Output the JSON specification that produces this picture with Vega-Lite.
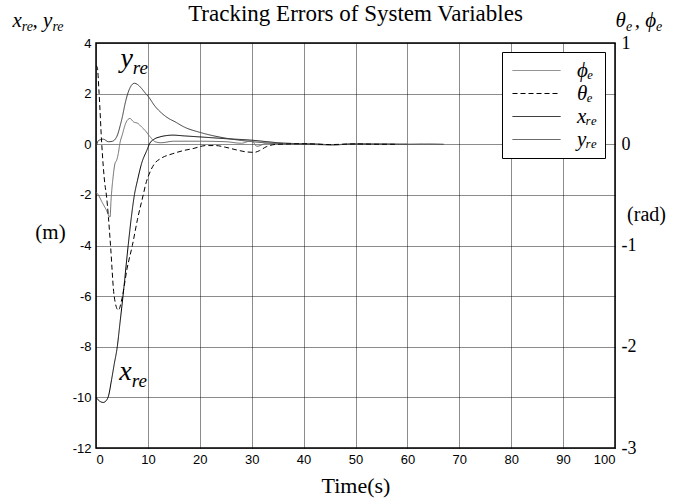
{
  "$schema": "https://vega.github.io/schema/vega-lite/v6.json",
  "width": 519,
  "height": 405,
  "autosize": {"type": "none"},
  "padding": {"left": 96, "top": 43, "right": 74, "bottom": 52},
  "background": "white",
  "config": {
    "view": {"stroke": "black", "strokeWidth": 1.5},
    "axis": {"gridColor": "#000000", "gridDash": [1, 1], "gridWidth": 1, "gridOpacity": 0.9, "ticks": false, "domain": false, "labelColor": "black", "titleColor": "black", "labelExpr": "replace(datum.label, '−', '-')"},
    "legend": {"orient": "none", "legendX": 406, "legendY": 9, "title": null, "strokeColor": "black", "fillColor": "white", "padding": 8, "symbolType": "M-1,0H5", "symbolSize": 256, "labelFont": "Liberation Serif", "labelFontStyle": "italic", "labelFontSize": 21, "labelOffset": 46, "rowPadding": 1, "labelColor": "black"}
  },
  "title": {"text": "Tracking Errors of System Variables", "font": "Liberation Serif", "fontSize": 23, "fontWeight": "normal", "color": "black", "anchor": "middle", "frame": "group", "baseline": "alphabetic", "offset": -34},
  "datasets": {
    "curves": [
      {"series": "xre", "t": 0, "v": -10.0}, {"series": "xre", "t": 0.7, "v": -10.15}, {"series": "xre", "t": 1.4, "v": -10.2}, {"series": "xre", "t": 2.0, "v": -10.12}, {"series": "xre", "t": 2.4, "v": -9.95}, {"series": "xre", "t": 3.0, "v": -9.3}, {"series": "xre", "t": 3.5, "v": -8.7}, {"series": "xre", "t": 4.1, "v": -8.0}, {"series": "xre", "t": 4.6, "v": -7.1}, {"series": "xre", "t": 5.2, "v": -6.0}, {"series": "xre", "t": 6.2, "v": -4.0}, {"series": "xre", "t": 6.8, "v": -2.9}, {"series": "xre", "t": 7.4, "v": -2.0}, {"series": "xre", "t": 8.0, "v": -1.42}, {"series": "xre", "t": 8.8, "v": -0.75}, {"series": "xre", "t": 9.8, "v": -0.24}, {"series": "xre", "t": 10.4, "v": 0.05}, {"series": "xre", "t": 11.2, "v": 0.2}, {"series": "xre", "t": 12.3, "v": 0.29}, {"series": "xre", "t": 13.5, "v": 0.34}, {"series": "xre", "t": 14.8, "v": 0.36}, {"series": "xre", "t": 17, "v": 0.33}, {"series": "xre", "t": 20, "v": 0.29}, {"series": "xre", "t": 25, "v": 0.22}, {"series": "xre", "t": 30, "v": 0.16}, {"series": "xre", "t": 33, "v": 0.1}, {"series": "xre", "t": 35, "v": 0.06}, {"series": "xre", "t": 38, "v": 0.03}, {"series": "xre", "t": 42, "v": 0.01}, {"series": "xre", "t": 46, "v": -0.02}, {"series": "xre", "t": 50, "v": 0.01}, {"series": "xre", "t": 54, "v": -0.01}, {"series": "xre", "t": 60, "v": 0.0},
      {"series": "yre", "t": 0, "v": -0.1}, {"series": "yre", "t": 0.5, "v": 0.15}, {"series": "yre", "t": 1.4, "v": 0.2}, {"series": "yre", "t": 2.4, "v": 0.1}, {"series": "yre", "t": 3.2, "v": 0.12}, {"series": "yre", "t": 3.7, "v": 0.2}, {"series": "yre", "t": 4.2, "v": 0.4}, {"series": "yre", "t": 4.6, "v": 0.69}, {"series": "yre", "t": 5.1, "v": 1.1}, {"series": "yre", "t": 5.6, "v": 1.6}, {"series": "yre", "t": 6.2, "v": 2.05}, {"series": "yre", "t": 6.8, "v": 2.32}, {"series": "yre", "t": 7.4, "v": 2.41}, {"series": "yre", "t": 8.0, "v": 2.36}, {"series": "yre", "t": 8.8, "v": 2.2}, {"series": "yre", "t": 9.5, "v": 2.02}, {"series": "yre", "t": 10.1, "v": 1.88}, {"series": "yre", "t": 11.3, "v": 1.52}, {"series": "yre", "t": 12.7, "v": 1.22}, {"series": "yre", "t": 14.0, "v": 1.02}, {"series": "yre", "t": 15.2, "v": 0.89}, {"series": "yre", "t": 17, "v": 0.68}, {"series": "yre", "t": 20, "v": 0.47}, {"series": "yre", "t": 22.5, "v": 0.34}, {"series": "yre", "t": 25, "v": 0.24}, {"series": "yre", "t": 28, "v": 0.15}, {"series": "yre", "t": 30.2, "v": 0.1}, {"series": "yre", "t": 34.7, "v": 0.03}, {"series": "yre", "t": 40, "v": 0.0}, {"series": "yre", "t": 45, "v": -0.02}, {"series": "yre", "t": 50, "v": 0.01}, {"series": "yre", "t": 55, "v": 0.02}, {"series": "yre", "t": 60, "v": -0.01}, {"series": "yre", "t": 64, "v": 0.01}, {"series": "yre", "t": 67, "v": 0.0},
      {"series": "phi", "t": 0, "v": -0.475}, {"series": "phi", "t": 0.3, "v": -0.49}, {"series": "phi", "t": 1.2, "v": -0.575}, {"series": "phi", "t": 2.0, "v": -0.65}, {"series": "phi", "t": 2.7, "v": -0.72}, {"series": "phi", "t": 2.9, "v": -0.55}, {"series": "phi", "t": 3.3, "v": -0.32}, {"series": "phi", "t": 3.66, "v": -0.19}, {"series": "phi", "t": 4.0, "v": -0.155}, {"series": "phi", "t": 4.3, "v": -0.09}, {"series": "phi", "t": 4.6, "v": 0.008}, {"series": "phi", "t": 5.1, "v": 0.1}, {"series": "phi", "t": 5.6, "v": 0.19}, {"series": "phi", "t": 6.0, "v": 0.235}, {"series": "phi", "t": 6.55, "v": 0.255}, {"series": "phi", "t": 7.2, "v": 0.222}, {"series": "phi", "t": 8.1, "v": 0.205}, {"series": "phi", "t": 8.8, "v": 0.17}, {"series": "phi", "t": 9.4, "v": 0.14}, {"series": "phi", "t": 10.4, "v": 0.075}, {"series": "phi", "t": 11.4, "v": 0.025}, {"series": "phi", "t": 12.5, "v": 0.015}, {"series": "phi", "t": 15, "v": 0.03}, {"series": "phi", "t": 20, "v": 0.03}, {"series": "phi", "t": 25, "v": 0.025}, {"series": "phi", "t": 28, "v": 0.01}, {"series": "phi", "t": 30, "v": 0.035}, {"series": "phi", "t": 31, "v": -0.02}, {"series": "phi", "t": 33, "v": 0.01}, {"series": "phi", "t": 36, "v": 0.0}, {"series": "phi", "t": 40, "v": 0.005}, {"series": "phi", "t": 45, "v": -0.005}, {"series": "phi", "t": 50, "v": 0.003}, {"series": "phi", "t": 55, "v": -0.003}, {"series": "phi", "t": 60, "v": 0.002}, {"series": "phi", "t": 63, "v": 0.0},
      {"series": "theta", "t": 0, "v": 0.775}, {"series": "theta", "t": 0.25, "v": 0.76}, {"series": "theta", "t": 0.6, "v": 0.5}, {"series": "theta", "t": 1.1, "v": 0.008}, {"series": "theta", "t": 1.7, "v": -0.39}, {"series": "theta", "t": 2.0, "v": -0.5}, {"series": "theta", "t": 2.4, "v": -0.725}, {"series": "theta", "t": 2.8, "v": -1.0}, {"series": "theta", "t": 3.5, "v": -1.5}, {"series": "theta", "t": 4.3, "v": -1.64}, {"series": "theta", "t": 5.0, "v": -1.525}, {"series": "theta", "t": 6.0, "v": -1.225}, {"series": "theta", "t": 7.0, "v": -1.0}, {"series": "theta", "t": 8.0, "v": -0.74}, {"series": "theta", "t": 9.1, "v": -0.5}, {"series": "theta", "t": 9.6, "v": -0.39}, {"series": "theta", "t": 10.2, "v": -0.3}, {"series": "theta", "t": 11.3, "v": -0.19}, {"series": "theta", "t": 12.5, "v": -0.14}, {"series": "theta", "t": 14.8, "v": -0.093}, {"series": "theta", "t": 16.8, "v": -0.063}, {"series": "theta", "t": 18.7, "v": -0.043}, {"series": "theta", "t": 21.2, "v": -0.013}, {"series": "theta", "t": 23, "v": -0.013}, {"series": "theta", "t": 25, "v": -0.03}, {"series": "theta", "t": 27, "v": -0.055}, {"series": "theta", "t": 28.9, "v": -0.075}, {"series": "theta", "t": 30.5, "v": -0.08}, {"series": "theta", "t": 31.5, "v": -0.063}, {"series": "theta", "t": 32.8, "v": -0.025}, {"series": "theta", "t": 35, "v": 0.0}, {"series": "theta", "t": 40, "v": 0.005}, {"series": "theta", "t": 45, "v": -0.003}, {"series": "theta", "t": 50, "v": 0.003}, {"series": "theta", "t": 55, "v": 0.0}, {"series": "theta", "t": 58, "v": 0.0}
    ],
    "notes": [
      {"grp": "plot", "t": 7.1, "v": 3.05, "main": "y", "sub": "re"},
      {"grp": "plot", "t": 6.9, "v": -9.32, "main": "x", "sub": "re"},
      {"grp": "head", "t": -14.3, "v": 4.63, "main": "x", "sub": "re"},
      {"grp": "head", "t": -8.4, "v": 4.63, "main": ", y", "sub": "re"},
      {"grp": "head", "t": 102.1, "v": 4.63, "main": "θ", "sub": "e"},
      {"grp": "head", "t": 107.9, "v": 4.63, "main": ", ϕ", "sub": "e"}
    ]
  },
  "layer": [
    {
      "encoding": {
        "x": {"field": "t", "type": "quantitative", "scale": {"domain": [0, 100], "nice": false},
              "axis": {"values": [0, 10, 20, 30, 40, 50, 60, 70, 80, 90, 100], "labelFont": "Liberation Sans", "labelFontSize": 13, "labelPadding": 5, "grid": true, "title": "Time(s)", "titleFont": "Liberation Serif", "titleFontSize": 22, "titleFontWeight": "normal", "titleY": 37, "titleBaseline": "middle"}},
        "y": {"field": "v", "type": "quantitative", "scale": {"domain": [-12, 4], "nice": false},
              "axis": {"values": [-12, -10, -8, -6, -4, -2, 0, 2, 4], "labelFont": "Liberation Sans", "labelFontSize": 13, "labelPadding": 5, "grid": true, "title": "(m)", "titleAngle": 0, "titleFont": "Liberation Serif", "titleFontSize": 21, "titleFontWeight": "normal", "titleX": -46, "titleY": 189, "titleAlign": "center", "titleBaseline": "middle"}}
      },
      "layer": [
        {
          "data": {"name": "curves"},
          "transform": [{"filter": "datum.series === 'xre' || datum.series === 'yre'"}],
          "mark": {"type": "line", "interpolate": "monotone"},
          "encoding": {
            "color": {"field": "series", "type": "nominal", "scale": {"domain": ["phi", "theta", "xre", "yre"], "range": ["#707070", "#000000", "#000000", "#3a3a3a"]},
                      "legend": {"labelExpr": "datum.label == 'phi' ? 'ϕₑ' : datum.label == 'theta' ? 'θₑ' : datum.label == 'xre' ? 'xᵣₑ' : 'yᵣₑ'"}},
            "strokeDash": {"field": "series", "type": "nominal", "scale": {"domain": ["phi", "theta", "xre", "yre"], "range": [[1, 0], [5, 3], [1, 0], [1, 0]]},
                      "legend": {"labelExpr": "datum.label == 'phi' ? 'ϕₑ' : datum.label == 'theta' ? 'θₑ' : datum.label == 'xre' ? 'xᵣₑ' : 'yᵣₑ'"}},
            "strokeWidth": {"field": "series", "type": "nominal", "scale": {"domain": ["phi", "theta", "xre", "yre"], "range": [1, 1, 1.5, 1.6]},
                      "legend": {"labelExpr": "datum.label == 'phi' ? 'ϕₑ' : datum.label == 'theta' ? 'θₑ' : datum.label == 'xre' ? 'xᵣₑ' : 'yᵣₑ'"}}
          }
        },
        {
          "data": {"name": "notes"},
          "transform": [{"filter": "datum.grp === 'plot'"}],
          "mark": {"type": "text", "align": "right", "baseline": "alphabetic", "font": "Liberation Serif", "fontStyle": "italic", "fontSize": 28, "color": "black"},
          "encoding": {"text": {"field": "main"}}
        },
        {
          "data": {"name": "notes"},
          "transform": [{"filter": "datum.grp === 'plot'"}],
          "mark": {"type": "text", "align": "left", "baseline": "alphabetic", "dy": 7, "font": "Liberation Serif", "fontStyle": "italic", "fontSize": 19, "color": "black"},
          "encoding": {"text": {"field": "sub"}}
        },
        {
          "data": {"name": "notes"},
          "transform": [{"filter": "datum.grp === 'head'"}],
          "mark": {"type": "text", "align": "right", "baseline": "alphabetic", "font": "Liberation Serif", "fontStyle": "italic", "fontSize": 21, "color": "black"},
          "encoding": {"text": {"field": "main"}}
        },
        {
          "data": {"name": "notes"},
          "transform": [{"filter": "datum.grp === 'head'"}],
          "mark": {"type": "text", "align": "left", "baseline": "alphabetic", "dy": 4, "font": "Liberation Serif", "fontStyle": "italic", "fontSize": 14, "color": "black"},
          "encoding": {"text": {"field": "sub"}}
        }
      ]
    },
    {
      "data": {"name": "curves"},
      "transform": [{"filter": "datum.series === 'phi' || datum.series === 'theta'"}],
      "mark": {"type": "line", "interpolate": "monotone"},
      "encoding": {
        "x": {"field": "t", "type": "quantitative", "scale": {"domain": [0, 100], "nice": false}},
        "y": {"field": "v", "type": "quantitative", "scale": {"domain": [-3, 1], "nice": false},
              "axis": {"orient": "right", "values": [-3, -2, -1, 0, 1], "labelFont": "Liberation Serif", "labelFontSize": 18, "labelPadding": 6, "grid": false, "title": "(rad)", "titleAngle": 0, "titleFont": "Liberation Serif", "titleFontSize": 20, "titleFontWeight": "normal", "titleX": 31, "titleY": 171, "titleAlign": "center", "titleBaseline": "middle"}},
        "color": {"field": "series", "type": "nominal", "scale": {"domain": ["phi", "theta", "xre", "yre"], "range": ["#707070", "#000000", "#000000", "#3a3a3a"]},
                  "legend": {"labelExpr": "datum.label == 'phi' ? 'ϕₑ' : datum.label == 'theta' ? 'θₑ' : datum.label == 'xre' ? 'xᵣₑ' : 'yᵣₑ'"}},
        "strokeDash": {"field": "series", "type": "nominal", "scale": {"domain": ["phi", "theta", "xre", "yre"], "range": [[1, 0], [5, 3], [1, 0], [1, 0]]},
                  "legend": {"labelExpr": "datum.label == 'phi' ? 'ϕₑ' : datum.label == 'theta' ? 'θₑ' : datum.label == 'xre' ? 'xᵣₑ' : 'yᵣₑ'"}},
        "strokeWidth": {"field": "series", "type": "nominal", "scale": {"domain": ["phi", "theta", "xre", "yre"], "range": [1, 1, 1.5, 1.6]},
                  "legend": {"labelExpr": "datum.label == 'phi' ? 'ϕₑ' : datum.label == 'theta' ? 'θₑ' : datum.label == 'xre' ? 'xᵣₑ' : 'yᵣₑ'"}}
      }
    }
  ],
  "resolve": {"scale": {"y": "independent"}}
}
